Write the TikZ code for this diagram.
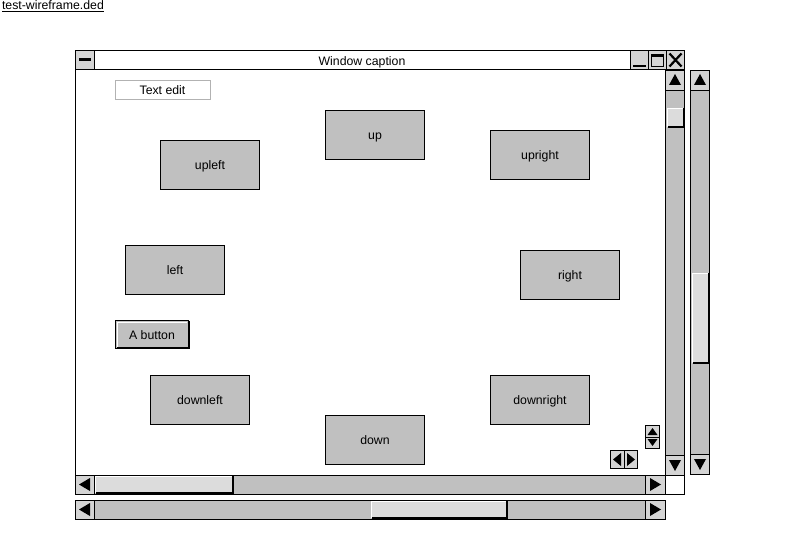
\documentclass[tikz,border=0pt]{standalone}
\usepackage{fontspec}
\setmainfont{Liberation Sans}
\definecolor{wgray}{HTML}{C0C0C0}
\definecolor{wlight}{HTML}{DCDCDC}
\definecolor{wicon}{HTML}{D4D4D4}
\newcommand\wfUp[2]{\fill[black] (#1+4,#2+15) -- (#1+16,#2+15) -- (#1+10,#2+4) -- cycle;}
\newcommand\wfDown[2]{\fill[black] (#1+4,#2+5) -- (#1+16,#2+5) -- (#1+10,#2+16) -- cycle;}
\newcommand\wfLeft[2]{\fill[black] (#1+4,#2+9.5) -- (#1+15,#2+3) -- (#1+15,#2+16) -- cycle;}
\newcommand\wfRight[2]{\fill[black] (#1+16,#2+9.5) -- (#1+5,#2+3) -- (#1+5,#2+16) -- cycle;}
\begin{document}
\begin{tikzpicture}[x=1pt,y=-1pt,line width=1pt,font=\fontsize{12.3}{14}\selectfont,
  every node/.style={outer sep=0pt},
  lbl/.style={text height=11pt,text depth=2pt,inner sep=0pt},
  gbtn/.style={draw=black,fill=wgray,minimum width=99pt,minimum height=49pt,lbl},
  sbar/.style={draw=black,fill=wgray},
  abox/.style={draw=black,fill=wicon}]
\useasboundingbox (0,0) rectangle (792,548);
\fill[white] (0,0) rectangle (792,548);
% file name
\node[anchor=west,inner sep=0pt] (fname) at (2,6.5) {\underline{test-wireframe.ded}};
% window frame
\draw[fill=white] (75.5,50.5) rectangle (684.5,494.5);
\node[draw=black,fill=white,minimum width=609pt,minimum height=19pt,inner sep=0pt,anchor=north west] (tbar) at (75.5,50.5) {};
\node[text height=12pt,text depth=1pt,inner sep=0pt] (caption) at (362,60) {Window caption};
% system menu button
\draw[abox] (75.5,50.5) rectangle (94.5,69.5);
\fill[black] (79,58) rectangle (91,61.5);
% minimize / maximize / close
\draw[abox] (630.5,50.5) rectangle (648.5,69.5);
\fill[black] (633,65) rectangle (646,67);
\draw[abox] (648.5,50.5) rectangle (666.5,69.5);
\draw[black] (651.5,54.5) rectangle (663.5,66.5);
\fill[black] (651,54) rectangle (664,57);
\draw[abox] (666.5,50.5) rectangle (684.5,69.5);
\draw[black,line width=2.2pt] (669.5,53.5) -- (681.5,66.5) (681.5,53.5) -- (669.5,66.5);
% text edit
\node[draw=gray!60,fill=white,minimum width=95pt,minimum height=19pt,inner sep=0pt,anchor=north west] (tedit) at (115.5,80.5) {};
\node[lbl] (tedittxt) at (162.5,90) {Text edit};
% grey buttons
\node[gbtn,anchor=north west] (up) at (325.5,110.5) {up};
\node[gbtn,anchor=north west] (upleft) at (160.5,140.5) {upleft};
\node[gbtn,anchor=north west] (upright) at (490.5,130.5) {upright};
\node[gbtn,anchor=north west] (left) at (125.5,245.5) {left};
\node[gbtn,anchor=north west] (right) at (520.5,250.5) {right};
\node[gbtn,anchor=north west] (downleft) at (150.5,375.5) {downleft};
\node[gbtn,anchor=north west] (downright) at (490.5,375.5) {downright};
\node[gbtn,anchor=north west] (down) at (325.5,415.5) {down};
% A button
\node[draw=black,fill=wgray,minimum width=73pt,minimum height=28pt,inner sep=0pt,anchor=north west] (abtn) at (115.5,320.5) {};
\draw[white] (117,347) -- (117,322) -- (187,322);
\draw[black,line width=2pt] (116.5,348) -- (188.5,348) -- (188.5,321);
\node[lbl] (abtntxt) at (152,334.5) {A button};
% inner vertical scrollbar
\draw[sbar] (665.5,69.5) rectangle (684.5,475.5);
\draw[abox] (665.5,70.5) rectangle (684.5,90.5);
\wfUp{665}{70}
\draw[abox] (665.5,455.5) rectangle (684.5,475.5);
\wfDown{665}{455}
\fill[wlight] (667,108) rectangle (683,127);
\draw[white] (667.5,127) -- (667.5,108.5) -- (683,108.5);
\draw[black,line width=2pt] (667.5,127) -- (684,127) -- (684,108);
% inner horizontal scrollbar
\draw[sbar] (75.5,475.5) rectangle (665.5,494.5);
\draw[abox] (75.5,475.5) rectangle (94.5,494.5);
\wfLeft{75}{475}
\draw[abox] (645.5,475.5) rectangle (665.5,494.5);
\wfRight{645}{475}
\fill[wlight] (95,476) rectangle (232,493);
\draw[white] (95.5,493) -- (95.5,476.5) -- (232,476.5);
\draw[black,line width=2pt] (96,493) -- (233,493) -- (233,476);
% external vertical scrollbar
\draw[sbar] (690.5,70.5) rectangle (709.5,474.5);
\draw[abox] (690.5,70.5) rectangle (709.5,90.5);
\wfUp{690}{70}
\draw[abox] (690.5,454.5) rectangle (709.5,474.5);
\wfDown{690}{454}
\fill[wlight] (692,273) rectangle (708,363);
\draw[white] (692.5,363) -- (692.5,273.5) -- (708,273.5);
\draw[black,line width=2pt] (692.5,363) -- (709,363) -- (709,273);
% external horizontal scrollbar
\draw[sbar] (75.5,500.5) rectangle (665.5,519.5);
\draw[abox] (75.5,500.5) rectangle (94.5,519.5);
\wfLeft{75}{500}
\draw[abox] (645.5,500.5) rectangle (665.5,519.5);
\wfRight{645}{500}
\fill[wlight] (371,501) rectangle (506,518);
\draw[white] (371.5,518) -- (371.5,501.5) -- (506,501.5);
\draw[black,line width=2pt] (372,518) -- (507,518) -- (507,501);
% vertical spinner
\draw[abox] (645.5,425.5) rectangle (659.5,448.5);
\draw (645.5,437) -- (659.5,437);
\fill[black] (647.5,435) -- (657.5,435) -- (652.5,428) -- cycle;
\fill[black] (647.5,439) -- (657.5,439) -- (652.5,446) -- cycle;
% horizontal spinner
\draw[abox] (610.5,450.5) rectangle (637.5,468.5);
\draw (624,450.5) -- (624,468.5);
\fill[black] (613,459.5) -- (621,453) -- (621,466) -- cycle;
\fill[black] (635,459.5) -- (627,453) -- (627,466) -- cycle;
\end{tikzpicture}
\end{document}
